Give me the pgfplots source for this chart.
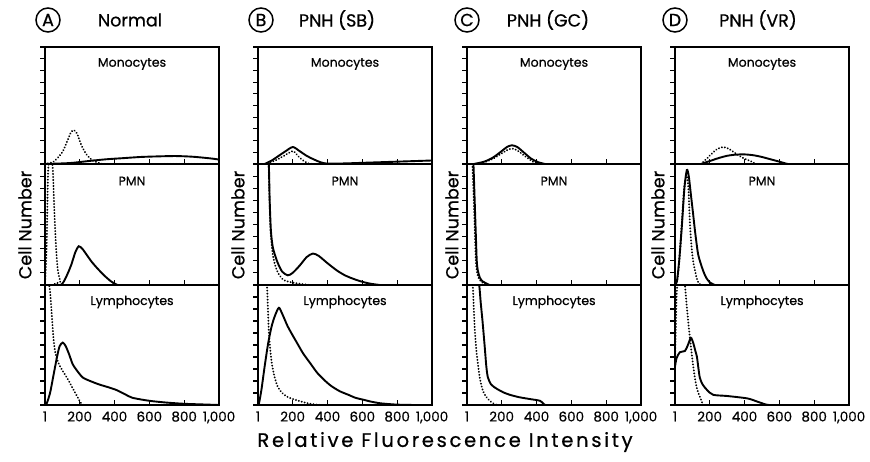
\documentclass[border=0pt]{standalone}
\usepackage{pgfplots}
\pgfplotsset{compat=1.18}
\usepackage{fontspec}
\setmainfont{Poppins}[FakeBold=0.7]
\pgfplotsset{
 panel/.style={scale only axis, width=174pt, xmin=1, xmax=1000, ymin=0, ymax=10,
   xtick={1,200,400,600,800,1000}, xtick pos=left, ytick={0,...,10}, ytick pos=left,
   yticklabels={}, xticklabels={}, tick align=inside, major tick length=5pt,
   ytick style={xshift=-5pt}, axis line style={line width=1.4pt},
   every tick/.append style={black, line width=1.1pt}, anchor=south west, clip=true,
   /pgf/number format/assume math mode=true,
   xticklabel style={font=\fontsize{13.5}{13.5}\selectfont, yshift=-3pt}},
 monorow/.style={panel, height=117pt},
 pmnrow/.style={panel, height=121pt},
 lymrow/.style={panel, height=120pt, xticklabels={1,200,400,600,800,{1,000}}},
 sol/.style={black, line width=1.9pt, smooth, tension=0.45, no markers},
 dot/.style={black, line width=2.1pt, dash pattern=on 0.01pt off 3pt, line cap=round, smooth, tension=0.45, no markers},
}
\newcommand{\plab}[1]{\node[font=\fontsize{12.5}{13}\selectfont] at ([yshift=-17pt]rel axis cs:0.5,1) {#1};}
\begin{document}
\begin{tikzpicture}
\useasboundingbox (0pt,0pt) rectangle (870pt,462pt);
% ---------------- Column A
\begin{axis}[monorow, at={(45pt,298pt)}]
\addplot[dot] coordinates {(1,0)(50,0.2)(100,1.0)(130,2.0)(150,2.7)(166,2.9)(185,2.6)(210,1.6)(240,0.8)(270,0.35)(310,0.1)(350,0)(1000,0)};
\addplot[sol] coordinates {(1,0)(100,0.05)(160,0.1)(250,0.25)(350,0.4)(450,0.5)(550,0.6)(650,0.65)(750,0.68)(850,0.62)(950,0.48)(1000,0.38)};
\plab{Monocytes}
\end{axis}
\begin{axis}[pmnrow, at={(45pt,177pt)}]
\addplot[dot] coordinates {(1,0)(10,3)(18,9)(25,10.3)(35,10.3)(45,9.8)(55,6)(65,3)(75,1.2)(90,0.3)(110,0)(1000,0)};
\addplot[sol] coordinates {(1,0)(90,0)(120,0.6)(150,1.6)(175,2.7)(194,3.2)(215,3.0)(240,2.5)(270,1.9)(300,1.4)(340,0.8)(380,0.3)(410,0.05)(420,0)(1000,0)};
\plab{PMN}
\end{axis}
\begin{axis}[lymrow, at={(45pt,57pt)}]
\addplot[dot] coordinates {(20,10.4)(30,9.5)(40,7.5)(50,5.5)(60,4.4)(75,3.6)(100,2.9)(130,2.2)(160,1.4)(190,0.6)(210,0.1)(220,0)};
\addplot[sol] coordinates {(1,0)(10,0.1)(30,1)(50,2.5)(70,4)(85,4.9)(103,5.2)(120,4.9)(140,4.2)(160,3.4)(183,2.9)(217,2.3)(260,2.0)(314,1.7)(360,1.5)(411,1.25)(460,0.9)(503,0.6)(600,0.35)(700,0.2)(800,0.1)(900,0.05)(1000,0)};
\plab{Lymphocytes}
\end{axis}
% ---------------- Column B
\begin{axis}[monorow, at={(258pt,298pt)}]
\addplot[dot] coordinates {(40,0)(100,0.3)(150,0.7)(201,1.1)(230,0.7)(260,0.3)(290,0.05)(310,0)};
\addplot[sol] coordinates {(40,0)(80,0.3)(120,0.7)(160,1.1)(201,1.45)(240,1.1)(280,0.7)(320,0.4)(360,0.15)(400,0.03)(500,0.05)(600,0.1)(700,0.15)(800,0.2)(900,0.25)(1000,0.3)};
\plab{Monocytes}
\end{axis}
\begin{axis}[pmnrow, at={(258pt,177pt)}]
\addplot[dot] coordinates {(55,10.5)(62,10)(67,7)(73,4.5)(85,2.6)(100,1.6)(120,0.9)(150,0.4)(200,0.2)(250,0.08)(300,0)};
\addplot[sol] coordinates {(55,10.5)(63,10)(68,7)(75,4.5)(85,3.2)(100,2.4)(115,1.8)(140,1.1)(172,0.8)(200,1.0)(240,1.6)(280,2.3)(316,2.6)(350,2.4)(400,1.8)(454,1.2)(500,0.8)(550,0.5)(603,0.25)(650,0.1)(700,0)};
\plab{PMN}
\end{axis}
\begin{axis}[lymrow, at={(258pt,57pt)}]
\addplot[dot] coordinates {(40,10.5)(52,10)(58,8)(63,6.2)(70,4.8)(80,3.5)(95,2.4)(115,1.5)(140,1.0)(167,0.7)(200,0.5)(259,0.25)(300,0.1)(355,0)};
\addplot[sol] coordinates {(5,0)(20,1.2)(40,3.3)(60,5.2)(80,6.6)(100,7.5)(121,8.1)(140,7.6)(170,6.6)(200,5.8)(224,5.2)(260,4.3)(300,3.5)(340,2.7)(380,2.1)(420,1.6)(470,1.15)(520,0.85)(560,0.6)(603,0.45)(650,0.28)(700,0.15)(750,0.08)(800,0.03)(900,0)(1000,0)};
\plab{Lymphocytes}
\end{axis}
% ---------------- Column C
\begin{axis}[monorow, at={(467pt,298pt)}]
\addplot[dot] coordinates {(60,0)(100,0.15)(150,0.45)(200,0.9)(240,1.25)(270,1.3)(300,1.05)(340,0.6)(380,0.2)(420,0)};
\addplot[sol] coordinates {(40,0)(100,0.2)(150,0.55)(200,1.1)(230,1.45)(259,1.6)(290,1.45)(330,0.95)(370,0.45)(410,0.15)(450,0)};
\plab{Monocytes}
\end{axis}
\begin{axis}[pmnrow, at={(467pt,177pt)}]
\addplot[dot] coordinates {(30,10.5)(32,10)(40,7)(47,4)(52,2)(58,1.1)(70,0.5)(90,0.2)(120,0)};
\addplot[sol] coordinates {(36,10.5)(38,10)(45,7)(52,4)(57,2)(63,1.2)(75,0.6)(90,0.3)(103,0.2)(130,0)};
\plab{PMN}
\end{axis}
\begin{axis}[lymrow, at={(467pt,57pt)}]
\addplot[dot] coordinates {(25,10.5)(34,10)(40,8)(46,6.2)(55,4.5)(63,3.5)(75,2.2)(92,1.2)(110,0.7)(132,0.35)(155,0.1)(175,0)};
\addplot[sol] coordinates {(60,10.5)(71,10)(80,8.5)(90,7)(103,4.8)(112,3.2)(121,2.3)(140,1.7)(172,1.35)(210,1.05)(247,0.85)(300,0.65)(360,0.5)(420,0.35)(440,0.1)(450,0)};
\plab{Lymphocytes}
\end{axis}
% ---------------- Column D
\begin{axis}[monorow, at={(675pt,298pt)}]
\addplot[dot] coordinates {(150,0)(180,0.4)(210,0.85)(240,1.25)(277,1.45)(310,1.3)(340,1.0)(370,0.7)(400,0.45)(434,0.25)(465,0)};
\addplot[sol] coordinates {(150,0)(200,0.25)(250,0.5)(300,0.7)(350,0.8)(400,0.82)(450,0.75)(500,0.6)(550,0.4)(600,0.2)(650,0)(700,0)};
\plab{Monocytes}
\end{axis}
\begin{axis}[pmnrow, at={(675pt,177pt)}]
\addplot[dot] coordinates {(1,0)(15,0.5)(28,2.5)(42,5.5)(55,8.2)(69,9.0)(78,8.0)(87,5.0)(97,3.0)(107,1.8)(116,1.2)(125,0.6)(135,0.2)(150,0)};
\addplot[sol] coordinates {(1,0)(12,0.3)(25,2)(40,4.8)(55,8)(69,9.5)(80,9)(92,7.5)(104,6.0)(118,4.2)(133,2.6)(148,1.8)(162,1.2)(180,0.6)(202,0.2)(230,0)};
\plab{PMN}
\end{axis}
\begin{axis}[lymrow, at={(675pt,57pt)}]
\addplot[dot] coordinates {(1,3.5)(5,6)(10,9)(17,10.5)(30,11)(50,10.5)(58,10)(70,8)(82,6.2)(95,4.5)(106,3.2)(116,2.2)(125,1.5)(135,1.0)(146,0.6)(160,0.1)(165,0)};
\addplot[sol] coordinates {(1,3.2)(10,3.9)(29,4.4)(58,4.5)(75,5.0)(92,5.6)(105,5.2)(118,4.5)(127,4.0)(136,3.0)(144,2.25)(160,1.7)(185,1.25)(220,0.85)(300,0.75)(416,0.55)(470,0.3)(520,0.05)(540,0)};
\plab{Lymphocytes}
\end{axis}
% ---------------- Titles and labels
\begin{scope}[font=\fontsize{17.5}{19}\selectfont]
\node[circle, draw, line width=1.5pt, inner sep=0pt, minimum size=24pt] at (48pt,442pt) {A};
\node at (130pt,442pt) {Normal};
\node[circle, draw, line width=1.5pt, inner sep=0pt, minimum size=24pt] at (261pt,442pt) {B};
\node at (337pt,442pt) {PNH (SB)};
\node[circle, draw, line width=1.5pt, inner sep=0pt, minimum size=24pt] at (467pt,442pt) {C};
\node at (548pt,442pt) {PNH (GC)};
\node[circle, draw, line width=1.5pt, inner sep=0pt, minimum size=24pt] at (675pt,442pt) {D};
\node at (758pt,442pt) {PNH (VR)};
\node[rotate=90] at (25pt,237pt) {Cell Number};
\node[rotate=90] at (238pt,237pt) {Cell Number};
\node[rotate=90] at (452pt,237pt) {Cell Number};
\node[rotate=90] at (658pt,237pt) {Cell Number};
\end{scope}
\node[font=\fontsize{19.5}{21}\selectfont\addfontfeatures{LetterSpace=14}] at (445pt,20pt) {Relative Fluorescence Intensity};
\end{tikzpicture}
\end{document}
